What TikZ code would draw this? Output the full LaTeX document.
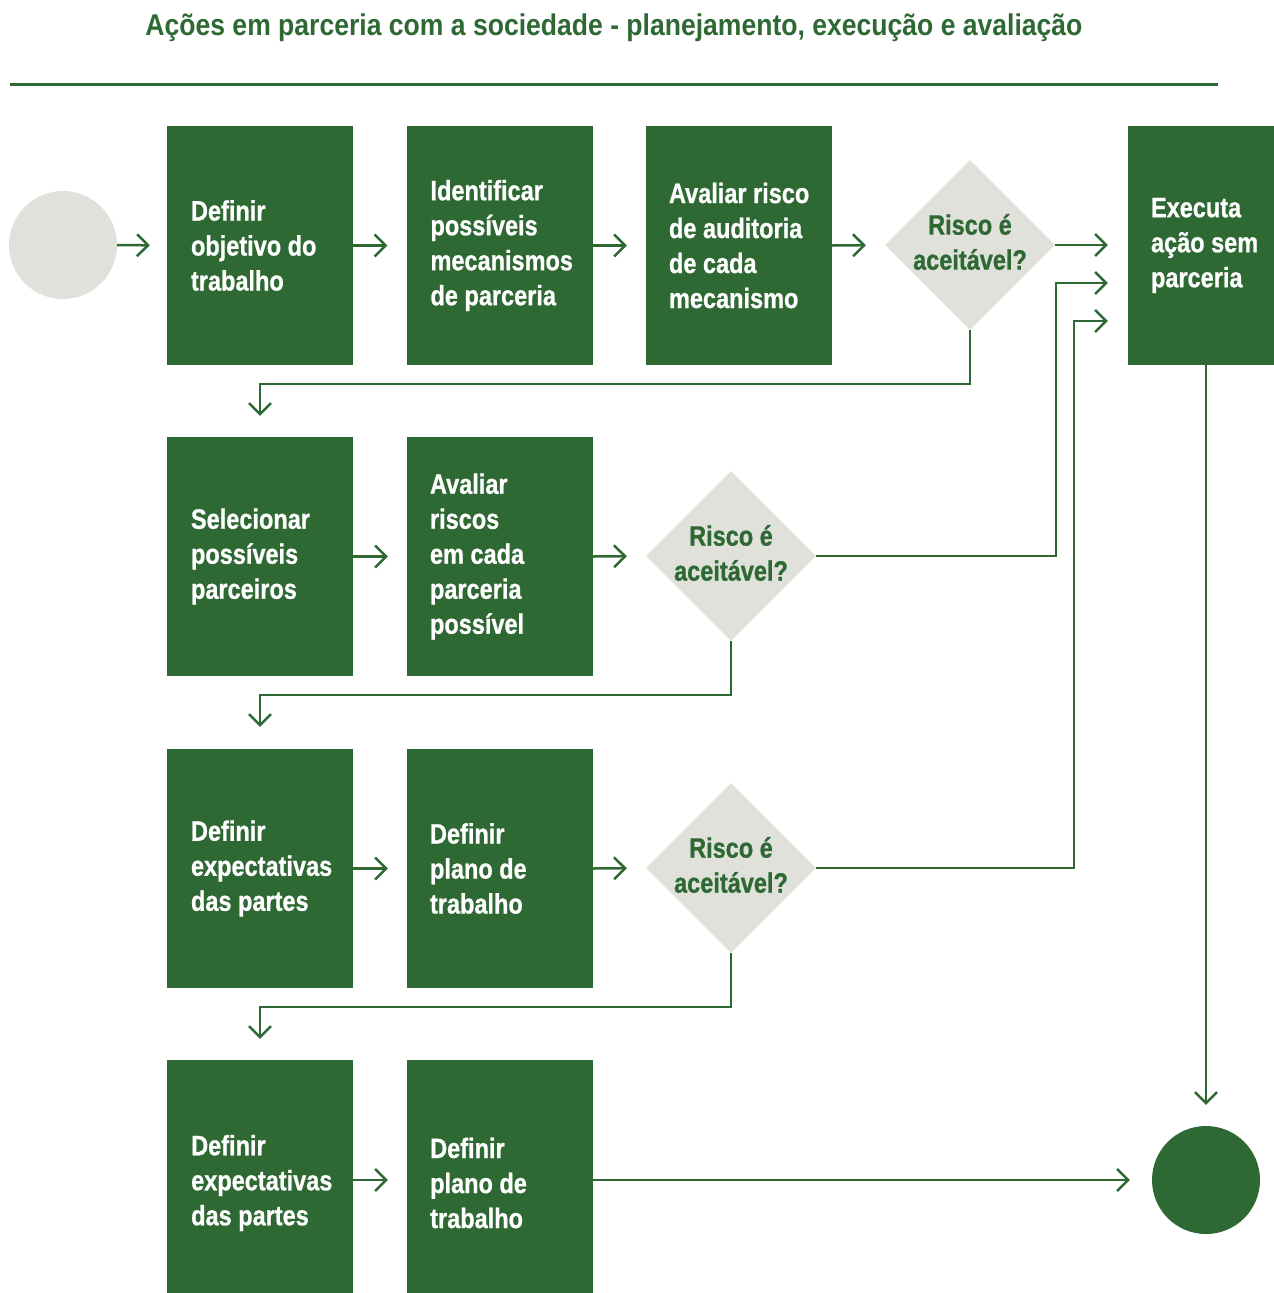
\documentclass[tikz,border=0pt]{standalone}
\usepackage{fontspec}
\setmainfont{Liberation Sans}[FakeStretch=0.84, BoldFont={Liberation Sans Bold}, BoldFeatures={FakeBold=0.8}]
\newfontfamily\titlefam{Liberation Sans Bold}[FakeStretch=0.885]
\usetikzlibrary{arrows.meta,shapes.geometric,calc}
\definecolor{dg}{HTML}{2E6833}
\definecolor{lg}{HTML}{DFE1DA}
\begin{document}
\begin{tikzpicture}[x=1pt,y=-1pt,
  titlefont/.style={text=dg, font=\titlefam\fontsize{30}{36}\selectfont, inner sep=0pt},
  box/.style={fill=dg, draw=none, minimum width=186pt, minimum height=239pt, inner sep=0pt},
  btext/.style={text=white, font=\bfseries\fontsize{28}{35}\selectfont, align=left, inner sep=0pt, anchor=west},
  dia/.style={diamond, fill=lg, draw=none, minimum width=170pt, minimum height=170pt, inner sep=0pt},
  dtext/.style={text=dg, font=\bfseries\fontsize{28}{35}\selectfont, align=center, inner sep=0pt},
  conn/.style={draw=dg, line width=2.5pt, -{Straight Barb[length=11pt,width=22pt]}},
]
\useasboundingbox (0,0) rectangle (1274,1293);
\node[titlefont] (title) at (614,28) {Ações em parceria com a sociedade - planejamento, execução e avaliação};
\coordinate (rl) at (10,84);
\coordinate (rr) at (1218,84);
\draw[dg, line width=3pt] (rl) -- (rr);

\node[circle, fill=lg, minimum size=108pt, inner sep=0pt] (start) at (63,245) {};
\node[circle, fill=dg, minimum size=108pt, inner sep=0pt] (endc) at (1206,1180) {};

\node[box] (b1) at (260,245.5) {};
\node[btext] (b1t) at ([xshift=24pt]b1.west) {Definir\\objetivo do\\trabalho};
\node[box] (b2) at (499.5,245.5) {};
\node[btext] (b2t) at ([xshift=24pt]b2.west) {Identificar\\possíveis\\mecanismos\\de parceria};
\node[box] (b3) at (739,245.5) {};
\node[btext] (b3t) at ([xshift=23pt]b3.west) {Avaliar risco\\de auditoria\\de cada\\mecanismo};
\node[dia] (d1) at (970,245) {};
\node[dtext] (d1t) at (970,242) {Risco é\\aceitável?};
\node[box, minimum width=146pt] (ex) at (1201,245.5) {};
\node[btext] (ext) at ([xshift=23pt]ex.west) {Executa\\ação sem\\parceria};

\node[box] (b4) at (260,556.5) {};
\node[btext] (b4t) at ([xshift=24pt]b4.west) {Selecionar\\possíveis\\parceiros};
\node[box] (b5) at (500,556.5) {};
\node[btext] (b5t) at ([xshift=23pt]b5.west) {Avaliar\\riscos\\em cada\\parceria\\possível};
\node[dia] (d2) at (731,556) {};
\node[dtext] (d2t) at (731,553) {Risco é\\aceitável?};

\node[box] (b6) at (260,868.5) {};
\node[btext] (b6t) at ([xshift=24pt]b6.west) {Definir\\expectativas\\das partes};
\node[box] (b7) at (500,868.5) {};
\node[btext] (b7t) at ([xshift=23pt]b7.west) {Definir\\plano de\\trabalho};
\node[dia] (d3) at (731,868) {};
\node[dtext] (d3t) at (731,865) {Risco é\\aceitável?};

\node[box, minimum height=233pt] (b8) at (260,1176.5) {};
\node[btext] (b8t) at (191,1183) {Definir\\expectativas\\das partes};
\node[box, minimum height=233pt] (b9) at (500,1176.5) {};
\node[btext] (b9t) at (430,1183) {Definir\\plano de\\trabalho};

% row 1
\draw[conn, shorten >=17pt] (start.east) -- (b1.west);
\draw[conn, shorten >=19pt] (b1.east) -- (b2.west);
\draw[conn, shorten >=19pt] (b2.east) -- (b3.west);
\draw[conn, shorten >=19pt] (b3.east) -- (d1.west);
\draw[conn, shorten >=20pt] (d1.east) -- (d1.east -| ex.west);
% row 2
\draw[conn, shorten >=19pt] (b4.east) -- (b5.west);
\draw[conn, shorten >=19pt] (b5.east) -- (d2.west);
% row 3
\draw[conn, shorten >=19pt] (b6.east) -- (b7.west);
\draw[conn, shorten >=19pt] (b7.east) -- (d3.west);
% row 4
\draw[conn, shorten >=19pt] (b8.east |- endc) -- (b9.west |- endc);
\draw[conn, shorten >=22pt] (b9.east |- endc) -- (endc.west);
% down loops
\draw[conn, shorten >=21pt] (d1.south) -- ++(0,54) -| (b4.north);
\draw[conn, shorten >=22pt] (d2.south) -- ++(0,54) -| (b6.north);
\draw[conn, shorten >=21pt] (d3.south) -- ++(0,54) -| (b8.north);
% to executa
\draw[conn, shorten >=20pt] (d2.east) -- (1056,556) |- ($(ex.west)+(0,37.5)$);
\draw[conn, shorten >=20pt] (d3.east) -- (1074,868) |- ($(ex.west)+(0,75.5)$);
\draw[conn, shorten >=21pt] (ex.south -| endc) -- (endc.north);
\end{tikzpicture}
\end{document}
